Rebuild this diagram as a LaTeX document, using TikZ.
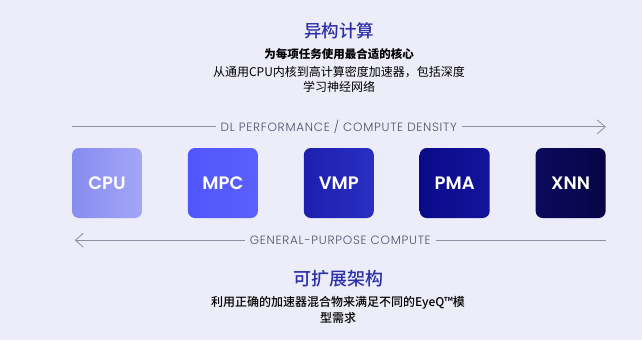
\documentclass[tikz,border=0pt]{standalone}
\usepackage{fontspec}
\setmainfont{Noto Sans CJK SC}
\newfontfamily\corefont{Poppins SemiBold}
\newfontfamily\axisfont[LetterSpace=6]{Poppins Light}
\newfontfamily\medfont{Noto Sans CJK SC Medium}
\usetikzlibrary{arrows.meta, positioning, calc}
\definecolor{pagebg}{HTML}{EDEDFA}
\definecolor{titleblue}{HTML}{2C30A8}
\definecolor{axisgray}{HTML}{8E8EA4}
\definecolor{labelgray}{HTML}{50506A}
\definecolor{cpuleft}{HTML}{878CF0}
\definecolor{cpuright}{HTML}{A3A6F8}
\definecolor{mpcleft}{HTML}{5056FA}
\definecolor{mpcright}{HTML}{5A60FC}
\definecolor{vmpleft}{HTML}{1C1FAE}
\definecolor{vmpright}{HTML}{2A2EC2}
\definecolor{pmaleft}{HTML}{0A0A88}
\definecolor{pmaright}{HTML}{14149C}
\definecolor{xnnleft}{HTML}{0C0A5C}
\definecolor{xnnright}{HTML}{070546}

\begin{document}
\begin{tikzpicture}[
    x=1pt, y=-1pt,
    node distance=45.5pt,
    core/.style 2 args={
        rectangle, rounded corners=7pt,
        left color=#1, right color=#2, draw=none,
        minimum width=70pt, minimum height=70pt, inner sep=0pt,
        text=white, font=\corefont\fontsize{18}{20}\selectfont,
    },
    heading/.style={text=titleblue, font=\medfont\fontsize{17.5}{20}\selectfont},
    caption/.style={align=center, text=black, inner sep=0pt},
    axislabel/.style={fill=pagebg, text=labelgray, inner xsep=5pt,
        font=\axisfont\fontsize{12}{14}\selectfont},
    axis/.style={draw=axisgray, line width=0.8pt,
        -{Straight Barb[length=8pt, width=14pt, line width=0.8pt]}},
]
\useasboundingbox[fill=pagebg] (0,0) rectangle (642,340);

% header
\node[heading] (title) at (339,31) {异构计算};
\node[caption, font=\fontsize{11.5}{14}\selectfont\bfseries, below=6pt of title] (motto) {为每项任务使用最合适的核心};
\node[caption, font=\fontsize{12}{15}\selectfont, below=6pt of motto] (scope) {从通用CPU内核到高计算密度加速器，包括深度\\学习神经网络};

% compute cores
\node[core={cpuleft}{cpuright}] (cpu) at (107,183) {CPU};
\node[core={mpcleft}{mpcright}, right=of cpu] (mpc) {MPC};
\node[core={vmpleft}{vmpright}, right=of mpc] (vmp) {VMP};
\node[core={pmaleft}{pmaright}, right=of vmp] (pma) {PMA};
\node[core={xnnleft}{xnnright}, right=of pma] (xnn) {XNN};

% axes
\coordinate (perfL) at ($(cpu.north west)+(0,-21)$);
\coordinate (perfR) at ($(xnn.north east)+(0,-21)$);
\coordinate (genL) at ($(cpu.south west)+(3,22)$);
\coordinate (genR) at ($(xnn.south east)+(0,22)$);
\draw[axis] (perfL) -- node[axislabel] {DL PERFORMANCE / COMPUTE DENSITY} (perfR);
\draw[axis] (genR) -- node[axislabel] {GENERAL-PURPOSE COMPUTE} (genL);

% footer
\node[heading, font=\medfont\fontsize{18}{21}\selectfont] (scale) at (338,279) {可扩展架构};
\node[caption, font=\medfont\fontsize{12}{16.5}\selectfont, below=5pt of scale] (mix) {利用正确的加速器混合物来满足不同的EyeQ™模\\型需求};

\end{tikzpicture}
\end{document}
